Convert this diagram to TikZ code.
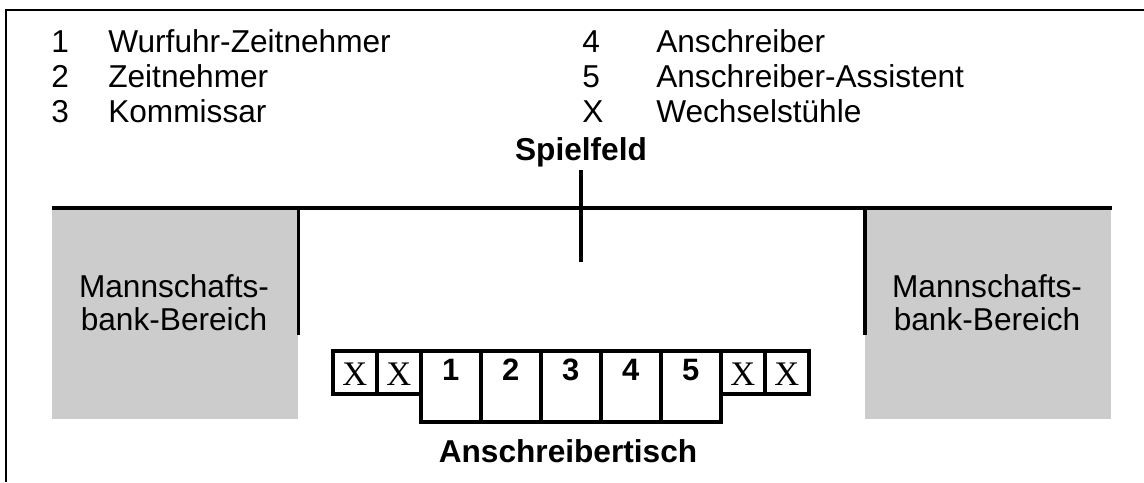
\documentclass[tikz,border=0pt]{standalone}
\usepackage{fontspec}
\setmainfont{Liberation Sans}
\newfontfamily\seriffont{Liberation Serif}
\usepackage{tikz}
\usetikzlibrary{positioning}
\definecolor{benchgray}{gray}{0.8}

\begin{document}
\begin{tikzpicture}[x=0.025cm,y=-0.025cm,
  every node/.style={inner sep=0pt,font=\fontsize{22.5}{23.5}\selectfont},
  legend/.style={anchor=base west},
  boldtext/.style={anchor=base,font=\fontsize{22.5}{25}\selectfont\bfseries},
  thickline/.style={line width=2.6pt},
  bench/.style={fill=benchgray,anchor=north west,minimum width=6.15cm,minimum height=5.275cm},
  benchtext/.style={align=center},
  xbox/.style={draw,thickline,anchor=north west,minimum width=1.1cm,
    text height=0.875cm,text depth=0.2cm,font=\fontsize{24.5}{25}\seriffont},
  numbox/.style={draw,thickline,anchor=north west,minimum width=1.5cm,
    text height=0.75cm,text depth=1.025cm,font=\fontsize{22}{25}\selectfont\bfseries}]
\useasboundingbox (0,0) rectangle (1144,482);
%%frame
\draw[line width=1.5pt] (6,482) -- (6,10) -- (1144,10);

%%Legend
\node[legend] (n1) at (51,52) {1};
\node[legend] (t1) at (108,52) {Wurfuhr-Zeitnehmer};
\node[legend] (n2) at (51,87) {2};
\node[legend] (t2) at (108,87) {Zeitnehmer};
\node[legend] (n3) at (51,122) {3};
\node[legend] (t3) at (108,122) {Kommissar};
\node[legend] (n4) at (582,52) {4};
\node[legend] (t4) at (656,52) {Anschreiber};
\node[legend] (n5) at (582,87) {5};
\node[legend] (t5) at (656,87) {Anschreiber-Assistent};
\node[legend] (nx) at (582,122) {X};
\node[legend] (tx) at (656,122) {Wechselstühle};

%%Spielfeld
\node[boldtext] (field) at (581,160) {Spielfeld};
\coordinate (ticktop) at (581,170);
\coordinate (tickbot) at (581,262);
\draw[thickline] (ticktop) -- (tickbot);

%%Benches
\node[bench] (benchL) at (52,208) {};
\node[bench] (benchR) at (865,208) {};
\node[benchtext] (benchLtext) at (174,303) {Mannschafts-\\bank-Bereich};
\node[benchtext] (benchRtext) at (987,303) {Mannschafts-\\bank-Bereich};
\draw[thickline] (benchL.north west) -- (benchR.north east);
\draw[thickline] (benchL.north east) -- ++(0,127);
\draw[thickline] (benchR.north west) -- ++(0,127);

%%Table
\node[xbox] (x1) at (331,349) {X};
\node[xbox] (x2) at (375,349) {X};
\node[numbox] (s1) at (419,349) {1};
\node[numbox] (s2) at (479,349) {2};
\node[numbox] (s3) at (539,349) {3};
\node[numbox] (s4) at (599,349) {4};
\node[numbox] (s5) at (659,349) {5};
\node[xbox] (x3) at (719,349) {X};
\node[xbox] (x4) at (763,349) {X};
\node[boldtext] (table) at (568,462) {Anschreibertisch};
\end{tikzpicture}
\end{document}
